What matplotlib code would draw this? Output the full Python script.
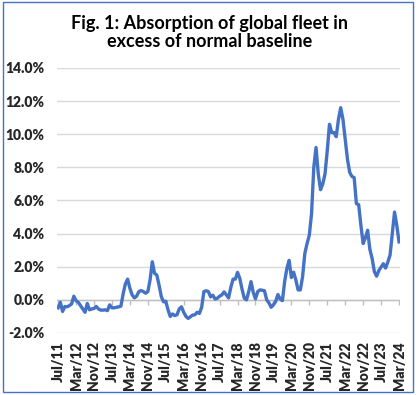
import numpy as np
import matplotlib.pyplot as plt
from matplotlib.patches import Rectangle

plt.rcParams['font.family'] = ['Lato', 'DejaVu Sans']

# monthly series, Jul 2011 .. Mar 2024 (percent)
months = ['Jan', 'Feb', 'Mar', 'Apr', 'May', 'Jun', 'Jul', 'Aug', 'Sep', 'Oct', 'Nov', 'Dec']
start_year, start_month = 2011, 7
absorption = [
    -0.48, -0.15, -0.70, -0.40, -0.42, -0.35, -0.25, 0.22, -0.05, -0.15,
    -0.35, -0.55, -0.75, -0.22, -0.60, -0.55, -0.52, -0.40, -0.55, -0.62,
    -0.62, -0.60, -0.65, -0.30, -0.48, -0.48, -0.45, -0.42, -0.38, 0.36,
    0.97, 1.25, 0.70, 0.30, 0.12, 0.22, 0.50, 0.56, 0.50, 0.40,
    0.50, 1.20, 2.30, 1.60, 1.50, 0.90, 0.20, -0.12, -0.08, -0.60,
    -1.00, -0.85, -0.95, -0.90, -0.55, -0.42, -0.75, -1.00, -1.12, -1.02,
    -0.92, -0.90, -0.75, -0.82, -0.45, 0.50, 0.55, 0.50, 0.18, 0.28,
    0.05, 0.10, 0.22, 0.30, 0.48, 0.30, 0.12, 0.75, 1.25, 1.25,
    1.66, 1.30, 0.65, 0.10, 0.00, 0.50, 1.10, 0.45, 0.06, 0.50,
    0.60, 0.58, 0.55, 0.00, -0.18, -0.45, -0.30, -0.10, 0.32, 0.05,
    -0.05, 1.10, 1.90, 2.38, 1.35, 1.67, 1.20, 0.60, 0.60, 1.40,
    2.80, 3.40, 3.90, 5.20, 8.00, 9.20, 7.60, 6.65, 7.00, 7.60,
    9.00, 10.60, 10.10, 10.10, 9.85, 10.90, 11.60, 10.90, 9.70, 8.50,
    7.70, 7.45, 7.38, 5.80, 5.75, 4.50, 3.40, 3.75, 4.20, 3.05,
    2.50, 1.70, 1.43, 1.77, 1.98, 2.18, 1.92, 2.28, 2.70, 4.00,
    5.30, 4.50, 3.50,
]

labels = []
for k in range(len(absorption)):
    m = (start_month - 1 + k) % 12
    y = start_year + (start_month - 1 + k) // 12
    labels.append('%s/%02d' % (months[m], y % 100))

blue = '#4472C4'
x = np.arange(len(absorption))
tick_pos = x[::8]

fig = plt.figure(figsize=(4.19, 3.95), dpi=100)
ax = fig.add_axes([0.136, 0.157, 0.819, 0.671])

ax.plot(x, absorption, color=blue, lw=2.4, solid_joinstyle='round', zorder=3)

ax.set_ylim(-2, 14)
ax.set_yticks(np.arange(-2, 15, 2))
ax.set_yticklabels(['%.1f%%' % v for v in np.arange(-2, 15, 2)])
ax.set_xlim(-0.5, len(absorption) - 0.5)
ax.set_xticks(tick_pos)
ax.set_xticklabels([labels[i] for i in tick_pos], rotation=90)

ax.grid(axis='y', color='#d9d9d9', lw=1)
ax.set_axisbelow(True)
for s in ax.spines.values():
    s.set_visible(False)
ax.tick_params(length=0, labelsize=10, colors='#262626')
ax.tick_params(axis='y', pad=9)
ax.tick_params(axis='x', pad=6)
for t in ax.get_xticklabels() + ax.get_yticklabels():
    t.set_fontweight('heavy')

# category axis sits at zero with small tick marks below it
ax.axhline(0, color='#bfbfbf', lw=1, zorder=2)
ax.vlines(tick_pos, -0.3, 0, color='#bfbfbf', lw=1, zorder=2)

fig.text(0.5, 0.962, 'Fig. 1: Absorption of global fleet in\nexcess of normal baseline',
         ha='center', va='top', fontsize=13, fontweight='bold', linespacing=1.1)

fig.patches.append(Rectangle((0.006, 0.008), 0.979, 0.987, transform=fig.transFigure,
                             fill=False, edgecolor=blue, lw=1.0))

fig.savefig('out.png', dpi=100)
